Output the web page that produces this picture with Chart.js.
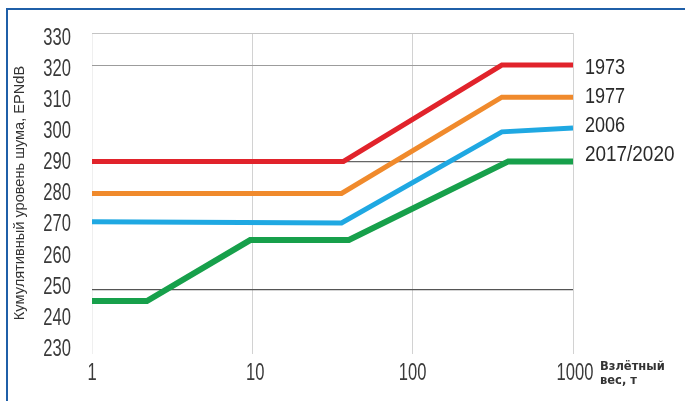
<!DOCTYPE html>
<html>
<head>
<meta charset="utf-8">
<script src="https://cdn.jsdelivr.net/npm/chart.js@4.4.1/dist/chart.umd.min.js"></script>
<style>
  html, body { margin: 0; padding: 0; background: #ffffff; }
  canvas { display: block; }
</style>
</head>
<body>
<canvas id="chart" width="685" height="401"></canvas>
<script>
// Take-off weight (t) breakpoints and cumulative noise limits (EPNdB) per standard
const seriesNames = ['1973', '1977', '2006', '2017/2020'];
const weights1973 = [1, 37, 360, 1000];
const noise1973   = [290, 290, 320, 320];
const weights1977 = [1, 36, 360, 1000];
const noise1977   = [280, 280, 310, 310];
const weights2006 = [1, 36, 360, 1000];
const noise2006   = [271.2, 270.8, 299.2, 300.4];
const weights2017 = [1, 2.2, 9.7, 40, 395, 1000];
const noise2017   = [246.5, 246.5, 265.5, 265.5, 290, 290];

const xTickValues = [1, 10, 100, 1000];
const xTickLabels = ['1', '10', '100', '1000'];
const yTickValues = [230, 240, 250, 260, 270, 280, 290, 300, 310, 320, 330];
const yTickLabels = ['230', '240', '250', '260', '270', '280', '290', '300', '310', '320', '330'];

const yAxisTitle = 'Кумулятивный уровень шума, EPNdB';
const xAxisTitle = ['Взлётный', 'вес, т'];

const colors = ['#e1232b', '#f08a2c', '#1fa8e2', '#17a04b'];
const pairs = (xs, ys) => xs.map((x, i) => ({ x: x, y: ys[i] }));
const seriesData = [
  pairs(weights1973, noise1973),
  pairs(weights1977, noise1977),
  pairs(weights2006, noise2006),
  pairs(weights2017, noise2017)
];

// Horizontal reference lines that are drawn, with their shades
const hLineColor = { 330: '#c4c4c4', 320: '#9c9c9c', 290: '#666666', 250: '#555555' };
// Pixel nudges for the series names at the right edge
const nameNudge = [2.5, -0.5, -2.5, -6];

function condensedText(ctx, text, x, y, align, sx) {
  ctx.save();
  ctx.translate(x, y);
  ctx.scale(sx, 1);
  ctx.textAlign = align;
  ctx.fillText(text, 0, 0);
  ctx.restore();
}

const decorPlugin = {
  id: 'decor',
  beforeDraw(chart) {
    const ctx = chart.ctx;
    ctx.save();
    ctx.fillStyle = '#ffffff';
    ctx.fillRect(0, 0, chart.width, chart.height);
    ctx.restore();
  },
  afterDraw(chart) {
    const ctx = chart.ctx;
    const xs = chart.scales.x, ys = chart.scales.y;
    ctx.save();
    ctx.fillStyle = '#3a3a3a';
    ctx.textBaseline = 'middle';
    ctx.font = '23px "Liberation Sans", Arial, sans-serif';

    // y tick labels (condensed digits)
    yTickValues.forEach((v, i) => {
      const py = ys.getPixelForValue(v) + (v - 275) * 0.1;
      condensedText(ctx, yTickLabels[i], 71, py, 'right', 0.72);
    });
    // x tick labels
    xTickValues.forEach((v, i) => {
      const px = xs.getPixelForValue(v);
      condensedText(ctx, xTickLabels[i], px + (v === 10 ? 3 : v === 1000 ? 2 : 0), 374, 'center', 0.72);
    });

    // series names to the right of each line end
    ctx.fillStyle = '#2a2a2a';
    ctx.font = '22px "Liberation Sans", Arial, sans-serif';
    seriesData.forEach((d, i) => {
      const last = d[d.length - 1];
      const py = ys.getPixelForValue(last.y) + nameNudge[i];
      condensedText(ctx, seriesNames[i], 585, py, 'left', i === 3 ? 0.86 : 0.82);
    });

    // y axis title
    ctx.save();
    ctx.translate(20, 193);
    ctx.rotate(-Math.PI / 2);
    ctx.font = '14.6px "Liberation Sans", Arial, sans-serif';
    ctx.fillStyle = '#333333';
    ctx.textAlign = 'center';
    ctx.fillText(yAxisTitle, 0, 0);
    ctx.restore();

    // x axis title
    ctx.font = 'bold 11.5px "DejaVu Sans", sans-serif';
    ctx.fillStyle = '#333333';
    ctx.textAlign = 'left';
    ctx.fillText(xAxisTitle[0], 600, 367);
    ctx.fillText(xAxisTitle[1], 600, 381);

    // frame
    ctx.strokeStyle = '#1f5fa8';
    ctx.lineWidth = 2;
    ctx.beginPath();
    ctx.moveTo(7, chart.height);
    ctx.lineTo(7, 9);
    ctx.lineTo(chart.width, 9);
    ctx.stroke();
    ctx.restore();
  }
};

new Chart(document.getElementById('chart'), {
  type: 'line',
  data: {
    datasets: seriesData.map((d, i) => ({
      label: seriesNames[i],
      data: d,
      borderColor: colors[i],
      borderWidth: i === 3 ? 6 : 5,
      pointRadius: 0,
      tension: 0,
      fill: false,
      borderCapStyle: 'butt',
      borderJoinStyle: 'miter'
    }))
  },
  options: {
    responsive: false,
    animation: false,
    events: [],
    layout: { padding: { left: 92, right: 112, top: 33, bottom: 47 } },
    plugins: { legend: { display: false }, tooltip: { enabled: false } },
    scales: {
      x: {
        type: 'logarithmic',
        min: 1,
        max: 1000,
        afterBuildTicks: (scale) => { scale.ticks = xTickValues.map(v => ({ value: v })); },
        ticks: { display: false },
        border: { display: false },
        grid: {
          drawTicks: false,
          lineWidth: 1,
          color: (c) => (c.tick && c.tick.value === 1) ? '#efefef' : '#d2d2d2'
        }
      },
      y: {
        min: 230,
        max: 330,
        afterBuildTicks: (scale) => { scale.ticks = yTickValues.map(v => ({ value: v })); },
        ticks: { display: false },
        border: { display: false },
        grid: {
          drawTicks: false,
          lineWidth: (c) => (c.tick && (c.tick.value === 290 || c.tick.value === 250)) ? 1.3 : 1,
          color: (c) => (c.tick && hLineColor[c.tick.value]) ? hLineColor[c.tick.value] : 'rgba(0,0,0,0)'
        }
      }
    }
  },
  plugins: [decorPlugin]
});
</script>
</body>
</html>
